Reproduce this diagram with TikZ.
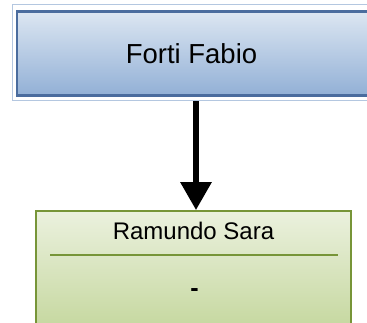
\documentclass[tikz,border=0pt]{standalone}
\usepackage{fontspec}
\setmainfont{Liberation Sans}
\usetikzlibrary{arrows.meta}
\definecolor{selframe}{HTML}{B4C7E0}
\definecolor{blueborder}{HTML}{4A6C9E}
\definecolor{bluetop}{HTML}{DCE6F2}
\definecolor{bluebot}{HTML}{92B0D6}
\definecolor{greenborder}{HTML}{779538}
\definecolor{greentop}{HTML}{EBF1DE}
\definecolor{greenbot}{HTML}{C3D69B}
\begin{document}
\begin{tikzpicture}[x=1pt,y=-1pt,
  selbox/.style={draw=selframe, line width=1pt, minimum width=368pt, minimum height=96pt, inner sep=0pt},
  bluebox/.style={draw=blueborder, line width=2.2pt, top color=bluetop, bottom color=bluebot, minimum width=362pt, minimum height=84pt, inner sep=0pt},
  greenbox/.style={draw=greenborder, line width=1.8pt, top color=greentop, bottom color=greenbot, minimum width=315pt, minimum height=125pt, inner sep=0pt},
  sep/.style={draw=greenborder, line width=1.5pt},
  conn/.style={line width=6pt, -{Triangle[width=30pt,length=28pt]}},
  ttl/.style={font=\fontsize{27.5}{30}\selectfont, inner sep=0pt},
  txt/.style={font=\fontsize{24}{26}\selectfont, inner sep=0pt}
]
\useasboundingbox (0,0) rectangle (367,323);
\node[selbox] (sel) at (196,53) {};
\node[bluebox] (fabio) at (198,53.5) {};
\node[ttl] (fabiotext) at (191.5,53.5) {Forti Fabio};
\node[greenbox] (sara) at (193.5,273.5) {};
\node[txt] (saratext) at (193.5,230.5) {Ramundo Sara};
\draw[sep] (50,255) -- (338,255);
\node[txt, font=\bfseries\fontsize{25}{28}\selectfont] (dash) at (194.5,293) {-};
\draw[conn] (sel.south) -- (sel.south |- sara.north);
\end{tikzpicture}
\end{document}
